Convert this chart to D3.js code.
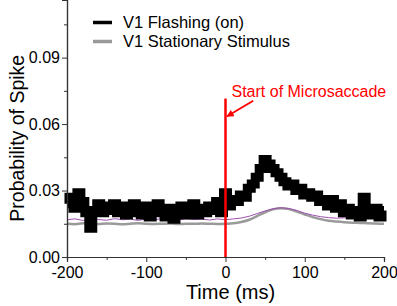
<!DOCTYPE html>
<html>
<head>
<meta charset="utf-8">
<script src="https://cdn.jsdelivr.net/npm/d3@7"></script>
<style>
  body { margin: 0; background: #fff; }
  text { font-family: "Liberation Sans", Arial, sans-serif; }
</style>
</head>
<body>
<div id="chart"></div>
<script>
const margin = { top: 0, right: 13, bottom: 49, left: 67 };
const width = 397 - margin.left - margin.right;
const height = 306 - margin.top - margin.bottom;

// time bins (ms) for the flashing series, 5 ms apart
const flashTimes = d3.range(-200, 201, 5);
const flashValues = [
  .024, .027, .022, .029, .025, .020, .013, .021, .024, .020,
  .023, .021, .024, .020, .023, .019, .022, .024, .020, .019,
  .023, .018, .021, .024, .020, .018, .022, .017, .021, .023,
  .019, .021, .024, .019, .022, .020, .023, .021, .025, .020,
  .029, .023, .026, .025, .028, .027, .031, .033, .036, .040,
  .044, .042, .040, .038, .036, .034, .032, .033, .030, .031,
  .028, .029, .027, .028, .025, .026, .023, .026, .022, .024,
  .020, .022, .019, .021, .018, .027, .020, .019, .022, .018,
  .021
];

// stationary stimulus, 10 ms apart
const statTimes = d3.range(-200, 201, 10);
const statValues = [
  .015, .0148, .0152, .015, .0149, .0151, .015, .0148, .015, .0152,
  .015, .0149, .015, .0151, .0149, .015, .015, .0151, .015, .0149,
  .015, .0152, .0158, .0168, .0185, .0202, .0215, .022, .0216, .0205,
  .0192, .018, .0171, .0164, .016, .0157, .0155, .0154, .0152, .0151, .015
];

// thin purple trace riding above the stationary curve
const purpleValues = [
  .0168, .0172, .0165, .0174, .0169, .0166, .0173, .0168, .0171, .0165,
  .0172, .0167, .0174, .0168, .0166, .0173, .0169, .0171, .0167, .0172,
  .0168, .0172, .0176, .0184, .0196, .0208, .0218, .0222, .0219, .021,
  .0198, .0189, .0182, .0178, .0175, .0177, .0174, .0178, .0175, .0177, .0176
];

const xTicks = [-200, -100, 0, 100, 200];
const xMinor = [-150, -50, 50, 150];
const yTicks = [0, 0.03, 0.06, 0.09];
const yMinor = [0.015, 0.045, 0.075, 0.105];

const svg = d3.select("#chart")
  .append("svg")
  .attr("width", width + margin.left + margin.right)
  .attr("height", height + margin.top + margin.bottom)
  .append("g")
  .attr("transform", "translate(" + margin.left + "," + margin.top + ")");

const xScale = d3.scaleLinear().domain([-200, 200]).range([0, width]);
const yScale = d3.scaleLinear().domain([0, 0.116]).range([height, 0]);

// data lines
const line = d3.line()
  .x(d => xScale(d[0]))
  .y(d => yScale(d[1]));

svg.append("path")
  .datum(statTimes.map((t, i) => [t, statValues[i]]))
  .attr("fill", "none")
  .attr("stroke", "#9a9a9a")
  .attr("stroke-width", 2.5)
  .attr("d", line.curve(d3.curveMonotoneX));

svg.append("path")
  .datum(statTimes.map((t, i) => [t, purpleValues[i]]))
  .attr("fill", "none")
  .attr("stroke", "#a04fb0")
  .attr("stroke-width", 1)
  .attr("d", line.curve(d3.curveLinear));

svg.append("path")
  .datum(flashTimes.map((t, i) => [t, flashValues[i]]))
  .attr("fill", "none")
  .attr("stroke", "#000")
  .attr("stroke-width", 9)
  .attr("d", line.curve(d3.curveStep));

// axes
const xAxis = d3.axisBottom(xScale).tickValues(xTicks).tickSize(5).tickPadding(5)
  .tickFormat(d3.format("d"));
const xAxisDrawn = svg.append("g")
  .attr("transform", "translate(0," + height + ")")
  .call(xAxis);
svg.append("g")
  .attr("transform", "translate(0," + height + ")")
  .call(d3.axisBottom(xScale).tickValues(xMinor).tickSize(3).tickFormat(""));

const yAxis = d3.axisLeft(yScale).tickValues(yTicks).tickSize(5).tickPadding(2)
  .tickFormat(d3.format(".2f"));
const yAxisDrawn = svg.append("g").call(yAxis);
svg.append("g")
  .call(d3.axisLeft(yScale).tickValues(yMinor).tickSize(3).tickFormat(""));

svg.selectAll(".domain").attr("stroke", "#333").attr("stroke-width", 1.2);
svg.selectAll(".tick line").attr("stroke", "#333");
xAxisDrawn.selectAll("text").attr("font-size", 16).attr("fill", "#000");
yAxisDrawn.selectAll("text").attr("font-size", 16).attr("fill", "#000");
// plain hyphen minus like the original
xAxisDrawn.selectAll("text").text(d => String(d));

// axis titles
svg.append("text")
  .attr("x", xScale(0) + 5)
  .attr("y", height + 42)
  .attr("text-anchor", "middle")
  .attr("font-size", 20)
  .text("Time (ms)");

svg.append("text")
  .attr("transform", "translate(" + (-43) + "," + (yScale(0.0536)) + ") rotate(-90)")
  .attr("text-anchor", "middle")
  .attr("font-size", 19.5)
  .text("Probability of Spike");

// microsaccade marker
svg.append("line")
  .attr("x1", xScale(0)).attr("x2", xScale(0))
  .attr("y1", yScale(0.0715)).attr("y2", height)
  .attr("stroke", "#ff0000")
  .attr("stroke-width", 2.5);

svg.append("text")
  .attr("x", xScale(0) + 6)
  .attr("y", yScale(0.0722))
  .attr("fill", "#ff0000")
  .attr("font-size", 16)
  .text("Start of Microsaccade");

svg.append("defs").append("marker")
  .attr("id", "arrow")
  .attr("viewBox", "0 0 10 10")
  .attr("refX", 9).attr("refY", 5)
  .attr("markerWidth", 4).attr("markerHeight", 4)
  .attr("orient", "auto")
  .append("path")
  .attr("d", "M0,0L10,5L0,10z")
  .attr("fill", "#ff0000");

svg.append("line")
  .attr("x1", xScale(35)).attr("y1", yScale(0.0705))
  .attr("x2", xScale(2)).attr("y2", yScale(0.0635))
  .attr("stroke", "#ff0000")
  .attr("stroke-width", 1.8)
  .attr("marker-end", "url(#arrow)");

// legend
const legend = [
  { label: "V1 Flashing (on)", color: "#000", w: 3.5 },
  { label: "V1 Stationary Stimulus", color: "#999", w: 3.5 }
];
const lg = svg.selectAll(".legend")
  .data(legend)
  .enter().append("g")
  .attr("class", "legend")
  .attr("transform", (d, i) => "translate(26," + (22.5 + i * 19) + ")");
lg.append("line")
  .attr("x1", 0).attr("x2", 19)
  .attr("stroke", d => d.color)
  .attr("stroke-width", d => d.w);
lg.append("text")
  .attr("x", 30)
  .attr("y", 5.5)
  .attr("font-size", 16.5)
  .text(d => d.label);
</script>
</body>
</html>
